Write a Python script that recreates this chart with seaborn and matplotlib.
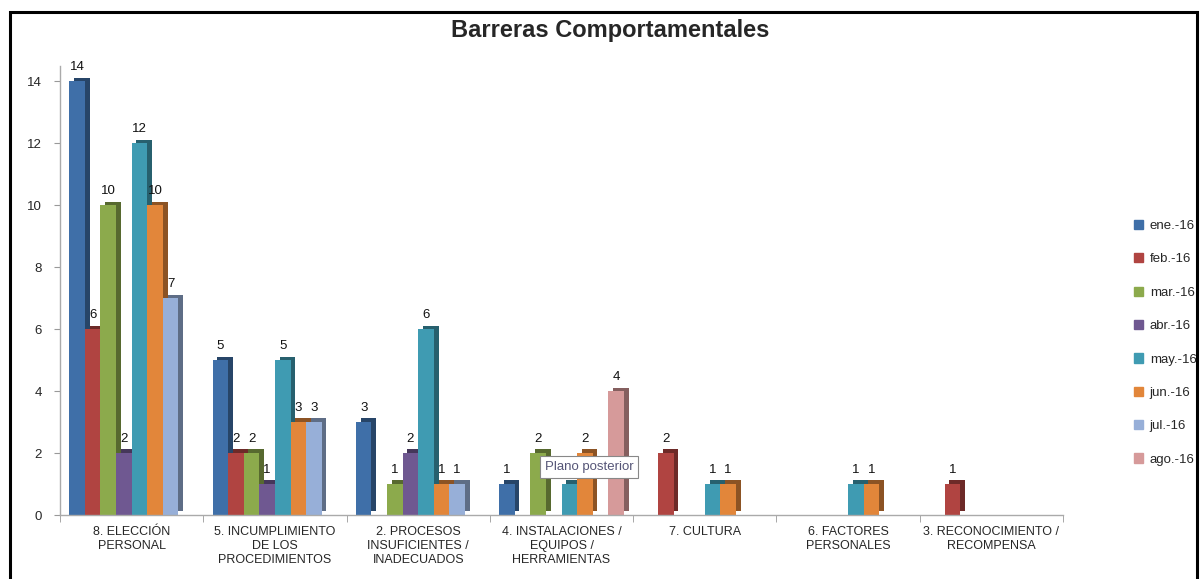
import numpy as np
import pandas as pd
import matplotlib
matplotlib.use("Agg")
import matplotlib.pyplot as plt
import matplotlib.patheffects as pe
from matplotlib.patches import Rectangle
import matplotlib.colors as mcolors
import seaborn as sns

categories = ["8. ELECCIÓN\nPERSONAL", "5. INCUMPLIMIENTO\nDE LOS\nPROCEDIMIENTOS",
              "2. PROCESOS\nINSUFICIENTES /\nINADECUADOS", "4. INSTALACIONES /\nEQUIPOS /\nHERRAMIENTAS",
              "7. CULTURA", "6. FACTORES\nPERSONALES", "3. RECONOCIMIENTO /\nRECOMPENSA"]
series = ["ene.-16", "feb.-16", "mar.-16", "abr.-16", "may.-16", "jun.-16", "jul.-16", "ago.-16"]
nan = np.nan
ene = [14, 5, 3, 1, nan, nan, nan]
feb = [6, 2, nan, nan, 2, nan, 1]
mar = [10, 2, 1, 2, nan, nan, nan]
abr = [2, 1, 2, nan, nan, nan, nan]
may = [12, 5, 6, 1, 1, 1, nan]
jun = [10, 3, 1, 2, 1, 1, nan]
jul = [7, 3, 1, nan, nan, nan, nan]
ago = [nan, nan, nan, 4, nan, nan, nan]
values = [ene, feb, mar, abr, may, jun, jul, ago]
colors = ["#3F6FA8", "#B04441", "#8CAA4C", "#6F5891", "#3F9BB2", "#E2863A", "#97AFD8", "#D69A9A"]
# label hidden behind the "Plano posterior" tooltip in the reference
hidden_label = ("may.-16", "4. INSTALACIONES /\nEQUIPOS /\nHERRAMIENTAS")

rows = []
for s, vals in zip(series, values):
    for c, v in zip(categories, vals):
        rows.append({"cat": c, "mes": s, "val": v})
df = pd.DataFrame(rows).dropna()

sns.set_style("white")
plt.rcParams['font.family'] = ['Liberation Sans', 'DejaVu Sans']

fig = plt.figure(figsize=(12.03, 5.79), dpi=100)
ax = fig.add_axes([60/1203, (579-515)/579, 1003/1203, (515-66)/579])

sns.barplot(data=df, x="cat", y="val", hue="mes", order=categories, hue_order=series,
            palette=colors, width=0.87, errorbar=None, ax=ax, linewidth=0, saturation=1)

for cont, col, s in zip(ax.containers, colors, series):
    dark = tuple(np.array(mcolors.to_rgb(col)) * 0.62)
    for p in cont:
        p.set_path_effects([pe.SimplePatchShadow(offset=(3.4, 2.6), shadow_rgbFace=dark, alpha=1.0),
                            pe.Normal()])
    sub = df[df.mes == s].set_index("cat")["val"]
    labs = []
    for c in categories:
        if c in sub.index:
            labs.append("" if (s, c) == hidden_label else "%d" % sub[c])
    ax.bar_label(cont, labels=labs, padding=6, fontsize=9.5, color="#111111")

ax.set_xlim(-0.5, 6.5)
ax.set_ylim(0, 14.5)
ax.set_yticks(range(0, 15, 2))
ax.set_xlabel("")
ax.set_ylabel("")
ax.tick_params(axis="y", labelsize=9.5, length=4, color="#999999", left=True, pad=9)
ax.tick_params(axis="x", which="major", labelsize=9, length=0, pad=8)
ax.set_xticks(np.arange(-0.5, 7.0, 1.0), minor=True)
ax.tick_params(axis="x", which="minor", length=5, color="#999999", bottom=True)
for s in ["top", "right"]:
    ax.spines[s].set_visible(False)
for s in ["left", "bottom"]:
    ax.spines[s].set_color("#AAAAAA")
    ax.spines[s].set_linewidth(1.0)

ax.legend_.remove()
handles = [Rectangle((0, 0), 1, 1, color=c) for c in colors]
fig.legend(handles, series, loc="upper left", bbox_to_anchor=(1122/1203, 1 - 208/579),
           frameon=False, fontsize=9.5, handlelength=0.7, handleheight=0.7,
           handletextpad=0.5, labelspacing=1.6)

fig.text(610/1203, 1 - 31/579, "Barreras Comportamentales", ha="center", va="center",
         fontsize=17, fontweight="bold")

fig.text(589/1203, 1 - 467/579, "Plano posterior", ha="center", va="center", fontsize=9.5,
         color="#555577", zorder=10,
         bbox=dict(boxstyle="square,pad=0.35", fc="white", ec="#888888", lw=0.8))

fig.patches.append(Rectangle((10/1203, -0.05), (1197-10)/1203, 1.05 - 12/579,
                             transform=fig.transFigure, fill=False, ec="black", lw=2.2))

fig.savefig("out.png", dpi=100)
